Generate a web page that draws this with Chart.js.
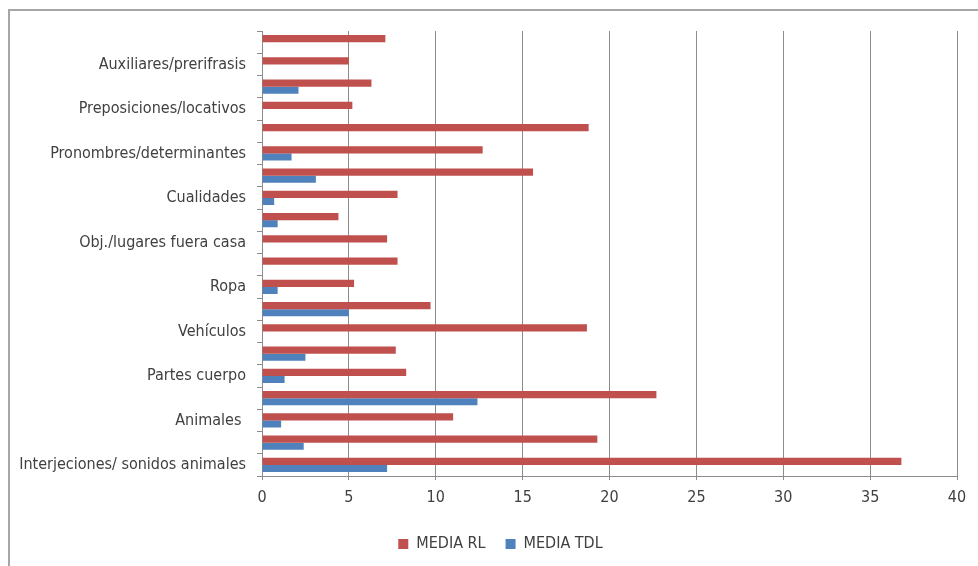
<!DOCTYPE html>
<html>
<head>
<meta charset="utf-8">
<script src="https://cdn.jsdelivr.net/npm/chart.js@4/dist/chart.umd.min.js"></script>
<style>
    html, body { margin: 0; padding: 0; background: #fff; }
    #wrap { position: relative; width: 978px; height: 566px; overflow: hidden; }
    #frame { position: absolute; left: 8px; top: 9px; width: 1100px; height: 700px; border: 2px solid #a6a6a6; box-sizing: border-box; }
    #mediaChart { position: absolute; left: 0; top: 0; }
</style>
</head>
<body>
<div id="wrap">
    <div id="frame"></div>
    <canvas id="mediaChart" width="978" height="566"></canvas>
</div>
<script>
// Categories from bottom to top (every other label is left blank, as in the original)
const categories = [
    'Interjeciones/ sonidos animales', '',
    'Animales ', '',
    'Partes cuerpo', '',
    'Vehículos', '',
    'Ropa', '',
    'Obj./lugares fuera casa', '',
    'Cualidades', '',
    'Pronombres/determinantes', '',
    'Preposiciones/locativos', '',
    'Auxiliares/prerifrasis', ''
];

const mediaRL = [36.8, 19.3, 11.0, 22.7, 8.3, 7.7, 18.7, 9.7, 5.3, 7.8,
                 7.2, 4.4, 7.8, 15.6, 12.7, 18.8, 5.2, 6.3, 5.0, 7.1];
const mediaTDL = [7.2, 2.4, 1.1, 12.4, 1.3, 2.5, 0, 5.0, 0.9, 0,
                  0, 0.9, 0.7, 3.1, 1.7, 0, 0, 2.1, 0, 0];

const xMin = 0;
const xMax = 40;
const xStep = 5;

const FONT = '"Liberation Sans Narrow", "DejaVu Sans Condensed", "Liberation Sans", sans-serif';
const TEXT_COLOR = '#404040';
const LINE_COLOR = '#8c8c8c';

// The original legend sits centred on the whole frame, a bit right of the plot centre
const legendShift = {
    id: 'legendShift',
    afterLayout(chart) {
        if (chart.legend) {
            chart.legend.left += 22;
            chart.legend.right += 22;
        }
    }
};

function createMediaChart() {
    const ctx = document.getElementById('mediaChart');
    if (!ctx) return null;

    return new Chart(ctx, {
        type: 'bar',
        data: {
            labels: categories,
            datasets: [
                {
                    label: 'MEDIA RL',
                    data: mediaRL,
                    backgroundColor: '#C0504D',
                    borderWidth: 0
                },
                {
                    label: 'MEDIA TDL',
                    data: mediaTDL,
                    backgroundColor: '#4F81BD',
                    borderWidth: 0
                }
            ]
        },
        options: {
            indexAxis: 'y',
            responsive: false,
            animation: false,
            categoryPercentage: 0.64,
            barPercentage: 1.0,
            layout: {
                padding: { top: 31, right: 21, bottom: 4, left: 0 }
            },
            plugins: {
                tooltip: { enabled: false },
                legend: {
                    position: 'bottom',
                    labels: {
                        color: TEXT_COLOR,
                        boxWidth: 10,
                        boxHeight: 10,
                        padding: 20,
                        font: { family: FONT, size: 16 }
                    }
                }
            },
            scales: {
                x: {
                    min: xMin,
                    max: xMax,
                    ticks: {
                        stepSize: xStep,
                        color: TEXT_COLOR,
                        padding: 8,
                        font: { family: FONT, size: 16 }
                    },
                    grid: { color: LINE_COLOR, tickLength: 4 },
                    border: { color: LINE_COLOR },
                    afterFit: (scale) => { scale.height = 40; }
                },
                y: {
                    reverse: true,
                    ticks: {
                        autoSkip: false,
                        color: TEXT_COLOR,
                        padding: 11,
                        font: { family: FONT, size: 16 }
                    },
                    grid: {
                        offset: true,
                        drawOnChartArea: false,
                        color: LINE_COLOR,
                        tickLength: 5
                    },
                    border: { color: LINE_COLOR },
                    afterFit: (scale) => { scale.width = 262; }
                }
            }
        },
        plugins: [legendShift]
    });
}

createMediaChart();
</script>
</body>
</html>
